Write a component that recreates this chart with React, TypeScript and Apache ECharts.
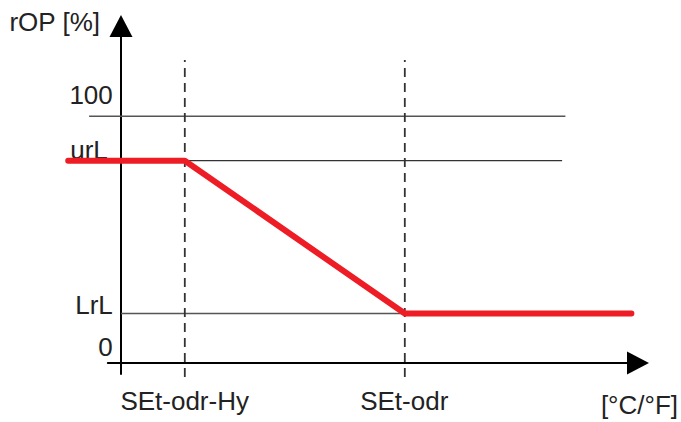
import React, { useEffect, useRef } from "react";
import * as echarts from "echarts";

// Tick labels (y: output level, x: set points)
const yTickValues = [0, 20, 82, 100];
const yTickLabels = ["0", "LrL", "urL", "100"];
const xTickValues = [2.9, 12.9];
const xTickLabels = ["SEt-odr-Hy", "SEt-odr"];

// Red characteristic curve
const curveX = [-2.4, 2.9, 12.9, 23.2];
const curveY = [82, 82, 20, 20];

// Horizontal reference lines
const line100X = [-1.45, 20.2];
const line100Y = [100, 100];
const lineUrlX = [0, 20.05];
const lineUrlY = [82, 82];
const lineLrlX = [0, 12.9];
const lineLrlY = [20, 20];

// Dashed verticals
const dashY = [-5.7, 122.8];

const FONT = "'Liberation Sans', Arial, sans-serif";

const zip = (xs: number[], ys: number[]) => xs.map((x, i) => [x, ys[i]]);

export default function App() {
  const ref = useRef<HTMLDivElement>(null);
  useEffect(() => {
    if (!ref.current) return;
    const chart = echarts.init(ref.current, undefined, { renderer: "svg" });
    const onData = { xAxisIndex: 1, yAxisIndex: 1 };
    const hLine = (data: number[][], color: string, width: number) => ({
      type: "line",
      ...onData,
      data,
      symbol: "none",
      clip: false,
      silent: true,
      z: 3,
      lineStyle: { color, width },
    });
    const dash = (x: number) => ({
      type: "line",
      ...onData,
      data: [
        [x, dashY[0]],
        [x, dashY[1]],
      ],
      symbol: "none",
      clip: false,
      silent: true,
      z: 4,
      lineStyle: { color: "#333", width: 1.8, type: [9, 6] },
    });
    const richMap: Record<string, string> = {
      "0": "z",
      LrL: "l",
      urL: "u",
      "100": "h",
    };
    const base = { fontSize: 26, fontFamily: FONT, color: "#222" };
    chart.setOption({
      animation: false,
      grid: [
        { left: 107.8, right: 42, top: 26, bottom: 48, containLabel: false },
        { left: 66, right: 42, top: 26, bottom: 48, containLabel: false },
      ],
      xAxis: [
        {
          type: "value",
          gridIndex: 0,
          min: -0.6,
          max: 23.545,
          splitLine: { show: false },
          axisTick: { show: false },
          axisLine: {
            onZero: true,
            symbol: ["none", "triangle"],
            symbolSize: [23, 22],
            lineStyle: { color: "#000", width: 2 },
          },
          axisLabel: {
            customValues: xTickValues,
            formatter: (v: number) => {
              const i = xTickValues.findIndex((t) => Math.abs(t - v) < 1e-6);
              return i >= 0 ? xTickLabels[i] : "";
            },
            margin: 14,
            ...base,
          },
          name: "{n|[°C/°F]}",
          nameLocation: "end",
          nameGap: 40,
          nameTextStyle: {
            ...base,
            align: "right",
            verticalAlign: "middle",
            rich: { n: { ...base, padding: [84, 0, 0, 0] } },
          },
        },
        {
          type: "value",
          gridIndex: 1,
          min: -2.5,
          max: 23.545,
          show: false,
        },
      ],
      yAxis: [
        {
          type: "value",
          gridIndex: 0,
          min: -4.5,
          max: 136.6,
          splitLine: { show: false },
          axisTick: { show: false },
          axisLine: {
            onZero: true,
            symbol: ["none", "triangle"],
            symbolSize: [23, 22],
            lineStyle: { color: "#000", width: 2 },
          },
          axisLabel: {
            customValues: yTickValues,
            formatter: (v: number) => {
              const i = yTickValues.findIndex((t) => Math.abs(t - v) < 1e-6);
              if (i < 0) return "";
              const lab = yTickLabels[i];
              return `{${richMap[lab]}|${lab}}`;
            },
            margin: -5,
            ...base,
            rich: {
              z: { ...base, padding: [0, 0, 31, 0] },
              l: { ...base, padding: [0, 0, 18, 0] },
              u: { ...base, padding: [0, 5, 21, 0] },
              h: { ...base, padding: [0, 0, 43, 0] },
            },
          },
          name: "{n|rOP [%]}",
          nameLocation: "end",
          nameGap: 0,
          nameTextStyle: {
            ...base,
            align: "right",
            verticalAlign: "middle",
            rich: { n: { ...base, padding: [0, 21, 8, 0] } },
          },
        },
        {
          type: "value",
          gridIndex: 1,
          min: -4.5,
          max: 136.6,
          show: false,
        },
      ],
      series: [
        hLine(zip(line100X, line100Y), "#555", 1.5),
        hLine(zip(lineUrlX, lineUrlY), "#333", 1.3),
        hLine(zip(lineLrlX, lineLrlY), "#555", 1.5),
        dash(xTickValues[0]),
        dash(xTickValues[1]),
        {
          type: "line",
          ...onData,
          data: zip(curveX, curveY),
          symbol: "none",
          clip: false,
          silent: true,
          z: 10,
          lineStyle: { color: "#ee1c25", width: 6, cap: "round", join: "round" },
        },
      ],
    });
    return () => chart.dispose();
  }, []);
  return (
    <div
      ref={ref}
      style={{ position: "fixed", left: 0, top: 0, width: 681, height: 422, background: "#fff" }}
    />
  );
}
